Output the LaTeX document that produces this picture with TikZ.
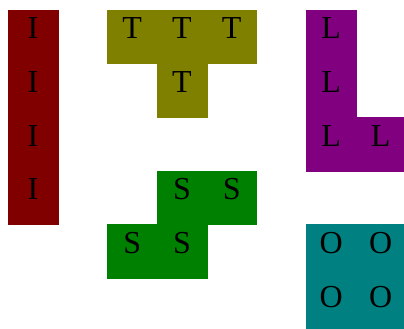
\documentclass[tikz,border=0pt]{standalone}
\usepackage{fontspec}
\setmainfont{Liberation Serif}

\definecolor{pieceI}{HTML}{800000}
\definecolor{pieceT}{HTML}{808000}
\definecolor{pieceL}{HTML}{800080}
\definecolor{pieceS}{HTML}{008000}
\definecolor{pieceO}{HTML}{008080}

\newcommand{\cw}{49.7pt}
\newcommand{\ch}{53.6pt}

\tikzset{
  letter/.style={anchor=base, inner sep=0pt, font=\fontsize{32}{32}\selectfont, text=black},
}

% one square of a piece: column, row, colour, letter
\newcommand{\tcell}[4]{%
  \fill[#3, draw=#3, line width=0.4pt] (#1*\cw,-#2*\ch) rectangle ++(\cw,-\ch);
  \node[letter] (cell-#1-#2) at (#1*\cw+0.5*\cw,-#2*\ch-29pt) {#4};
}

\begin{document}
\begin{tikzpicture}
    \clip (-8pt,10pt) rectangle (396pt,-319pt);
    \fill[white] (-8pt,10pt) rectangle (396pt,-319pt);

    % I
    \foreach \r in {0,...,3} {\tcell{0}{\r}{pieceI}{I}}
    % T
    \foreach \c/\r in {2/0,3/0,4/0,3/1} {\tcell{\c}{\r}{pieceT}{T}}
    % L
    \foreach \c/\r in {6/0,6/1,6/2,7/2} {\tcell{\c}{\r}{pieceL}{L}}
    % S
    \foreach \c/\r in {3/3,4/3,2/4,3/4} {\tcell{\c}{\r}{pieceS}{S}}
    % O
    \foreach \c/\r in {6/4,7/4,6/5,7/5} {\tcell{\c}{\r}{pieceO}{O}}
\end{tikzpicture}
\end{document}
